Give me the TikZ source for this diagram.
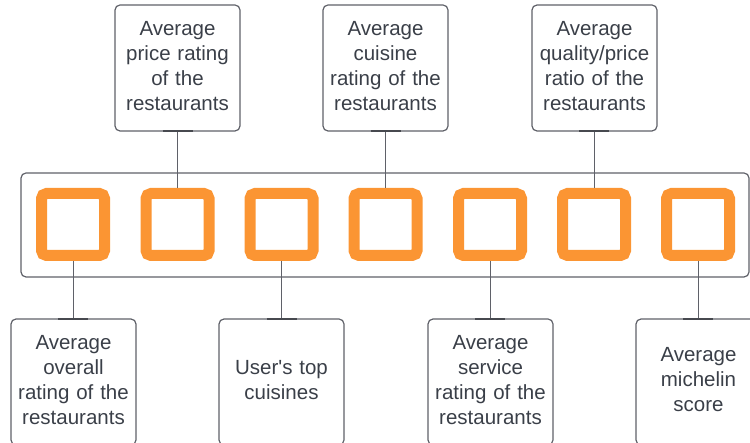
\documentclass[tikz,border=0pt]{standalone}
\usepackage{fontspec}
\setmainfont{Liberation Sans}[Ligatures=TeXOff]
\definecolor{edge}{HTML}{5F6169}
\definecolor{ink}{HTML}{3A3F48}
\definecolor{tileorange}{HTML}{FB9533}
\begin{document}
\begin{tikzpicture}[x=1pt,y=-1pt,
  labelbox/.style={draw=edge, line width=1.2pt, rounded corners=5pt,
    minimum width=125pt, minimum height=126pt, text width=118pt,
    align=center, text=ink, font=\fontsize{20.5}{25}\selectfont,
    inner sep=0pt, outer sep=0pt,
    execute at end node={\endgraf\vspace{4pt}}},
  tile/.style={draw=tileorange, line width=11pt, rounded corners=5pt,
    minimum width=63pt, minimum height=62pt, inner sep=0pt, outer sep=5.5pt},
  frame/.style={draw=edge, line width=1.2pt, rounded corners=5pt,
    minimum width=728pt, minimum height=104pt, inner sep=0pt, outer sep=0pt},
  link/.style={draw=edge, line width=1pt},
  joint/.style={draw=edge!75!black, line width=2pt}]

\useasboundingbox (0,0) rectangle (750,443);
\begin{scope}
\clip (0,0) rectangle (750,443);

% container holding the row of tiles
\node[frame] (row) at (385,225) {};

% orange tiles
\foreach \i/\x in {1/73,2/177.5,3/281.5,4/385.5,5/490,6/594,7/698}
  \node[tile] (s\i) at (\x,224.5) {};

% labels above the row
\node[labelbox] (t1) at (177.5,68) {Average\\price rating\\of the\\restaurants};
\node[labelbox] (t2) at (385.5,68) {Average\\cuisine\\rating of the\\restaurants};
\node[labelbox] (t3) at (594.5,68) {Average\\quality/price\\ratio of the\\restaurants};

% labels below the row
\node[labelbox] (b1) at (73.5,382) {Average\\overall\\rating of the\\restaurants};
\node[labelbox] (b2) at (281.5,382) {User's top\\cuisines};
\node[labelbox] (b3) at (490.5,382) {Average\\service\\rating of the\\restaurants};
\node[labelbox] (b4) at (698.5,382) {Average\\michelin\\score};

% connectors from labels to tiles
\foreach \t/\s in {t1/s2,t2/s4,t3/s6}{
  \draw[link] (\s.north) -- (\s.north |- \t.south);
  \draw[joint] ([xshift=-15pt]\s.north |- \t.south) -- ([xshift=15pt]\s.north |- \t.south);
}
\foreach \b/\s in {b1/s1,b2/s3,b3/s5,b4/s7}{
  \draw[link] (\s.south) -- (\s.south |- \b.north);
  \draw[joint] ([xshift=-15pt]\s.south |- \b.north) -- ([xshift=15pt]\s.south |- \b.north);
}
\end{scope}
\end{tikzpicture}
\end{document}
